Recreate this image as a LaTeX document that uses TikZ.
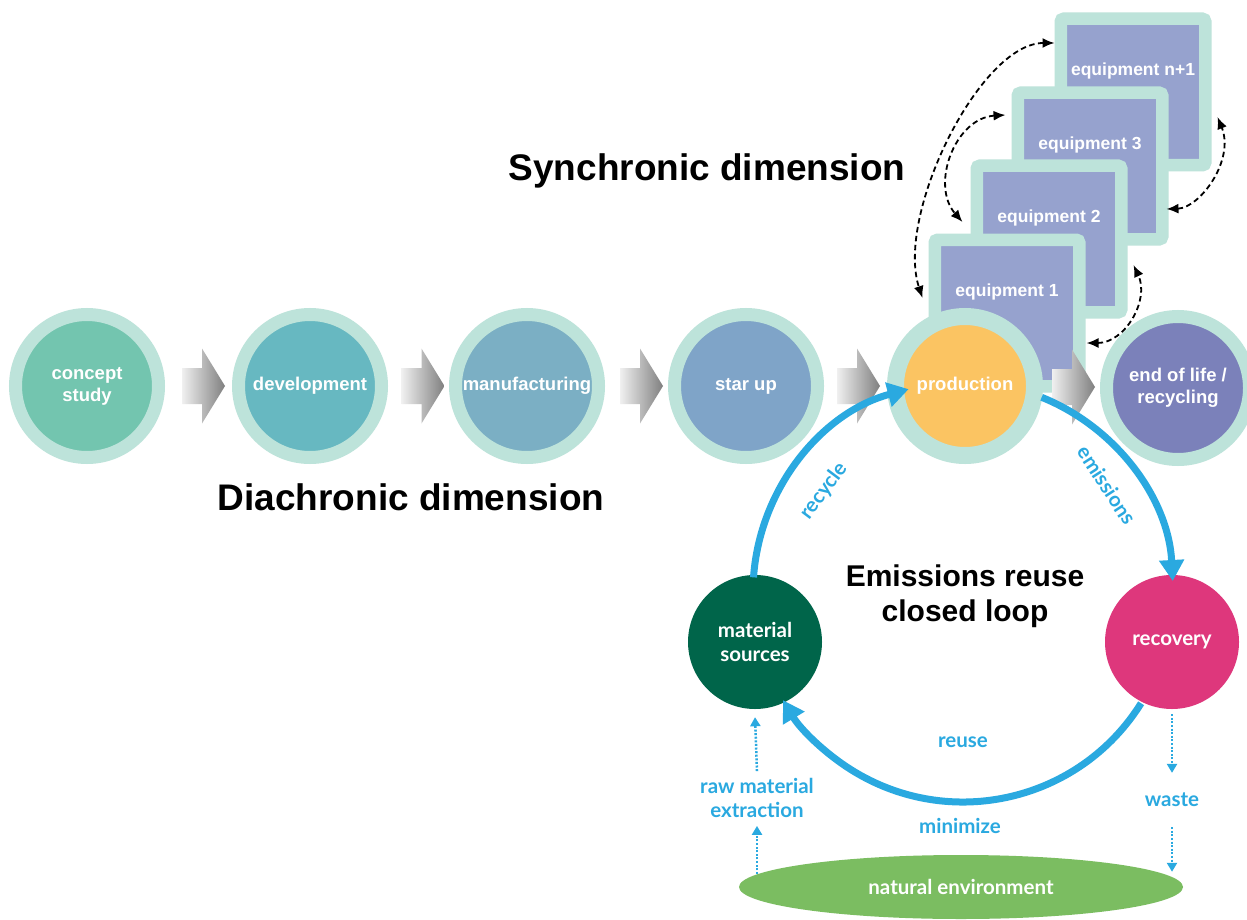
\documentclass[tikz,border=0pt]{standalone}
\usepackage{fontspec}
\setmainfont{Liberation Sans}
\newfontfamily\loopfont{Lato}
\usetikzlibrary{arrows.meta,shapes.geometric,calc}

\definecolor{ringc}{HTML}{BDE3DA}
\definecolor{conceptc}{HTML}{73C5AF}
\definecolor{develc}{HTML}{67B8C1}
\definecolor{manufc}{HTML}{7BAFC4}
\definecolor{startc}{HTML}{7FA4C8}
\definecolor{prodc}{HTML}{FBC462}
\definecolor{eolc}{HTML}{7B81BA}
\definecolor{eqcol}{HTML}{96A2CE}
\definecolor{matc}{HTML}{00654A}
\definecolor{recc}{HTML}{DE377C}
\definecolor{loopblue}{HTML}{2AA9E0}
\definecolor{envc}{HTML}{7BBD61}
\definecolor{arrowL}{HTML}{F0F0F0}
\definecolor{arrowR}{HTML}{7F7F7F}

\newcommand\stagefont{\bfseries\fontsize{18.5}{22}\selectfont}
\newcommand\eqfont{\bfseries\fontsize{17.5}{21}\selectfont}
\newcommand\smallloopfont{\loopfont\bfseries\fontsize{20.5}{24}\selectfont}

\tikzset{
  blockarrow/.pic={
    \shade[left color=arrowL, right color=arrowR]
      (-21.5,-18) -- (-1.5,-18) -- (-1.5,-37.5) -- (21.5,0) -- (-1.5,37.5)
      -- (-1.5,18) -- (-21.5,18) -- cycle;
  }
}

\begin{document}
\begin{tikzpicture}[x=1pt,y=-1pt,
  stage/.style={circle, draw=ringc, line width=13pt, minimum size=143pt,
    inner sep=0pt, text=white, font=\stagefont, align=center},
  eqbox/.style={rectangle, draw=ringc, fill=eqcol, line width=12.5pt,
    minimum width=144.5pt, minimum height=146.5pt, inner sep=0pt,
    rounded corners=3pt},
  eqtext/.style={text=white, font=\eqfont, inner sep=0pt},
  linkarrow/.style={draw=black, line width=1.8pt, dash pattern=on 5.5pt off 3.5pt,
    <->, >={Latex[length=12pt,width=10pt]}},
  loopnode/.style={circle, minimum size=134pt, inner sep=0pt, text=white,
    font=\smallloopfont, align=center},
  looparrow/.style={draw=loopblue, line width=7pt, ->,
    >={Triangle[length=21pt,width=24pt]}},
  dotarr/.style={draw=loopblue, line width=2.5pt, dash pattern=on 2pt off 1.6pt,
    ->, >={Triangle[length=9pt,width=10pt]}},
  bluelbl/.style={text=loopblue, font=\smallloopfont, inner sep=0pt, align=center},
  title/.style={text=black, font=\bfseries\fontsize{37}{42}\selectfont, inner sep=0pt},
]
\fill[white] (0,0) rectangle (1247,920);
\useasboundingbox (0,0) rectangle (1247,920);

% stack of equipment units (back to front)
\node[eqbox] (eqn) at (1133,92) {};
\node[eqtext] (eqnT) at ([yshift=21pt]eqn.center) {equipment n+1};
\node[eqbox] (eq3) at (1090,166) {};
\node[eqtext] (eq3T) at ([yshift=21pt]eq3.center) {equipment 3};
\node[eqbox] (eq2) at (1049,239) {};
\node[eqtext] (eq2T) at ([yshift=21pt]eq2.center) {equipment 2};
\node[eqbox] (eq1) at (1007,313) {};
\node[eqtext] (eq1T) at ([yshift=21pt]eq1.center) {equipment 1};

% life-cycle stages
\node[stage, fill=conceptc] (concept) at (87,386) {concept\\study};
\node[stage, fill=develc] (devel) at (310,386) {development};
\node[stage, fill=manufc] (manuf) at (527,386) {manufacturing};
\node[stage, fill=startc] (startup) at (746,386) {star up};
\node[stage, fill=prodc, line width=17pt, minimum size=139pt] (prod) at (965,386) {production};
\node[stage, fill=eolc] (eol) at (1178,388) {end of life /\\recycling};

% block arrows between stages
\pic at ($(concept.east)!0.5!(devel.west)+(5,0)$) {blockarrow};
\pic at ($(devel.east)!0.5!(manuf.west)+(4.5,0)$) {blockarrow};
\pic at ($(manuf.east)!0.5!(startup.west)+(5,0)$) {blockarrow};
\pic at ($(startup.east)!0.5!(prod.west)+(3,0)$) {blockarrow};
\pic at ($(prod.east)!0.5!(eol.west)+(2,0)$) {blockarrow};

% links between equipment units
\draw[linkarrow] ([yshift=49pt]eqn.west) .. controls (980,43) and (895,215) .. ([xshift=-6pt,yshift=15pt]eq1.west);
\draw[linkarrow] ([xshift=-6pt,yshift=51pt]eq3.west) .. controls (955,118) and (930,185) .. ([xshift=-8pt,yshift=17pt]eq2.west);
\draw[linkarrow] ([xshift=-2pt,yshift=-43pt]eq3.east) .. controls (1200,208) and (1235,160) .. ([xshift=6pt,yshift=-25pt]eqn.east);
\draw[linkarrow] ([xshift=1pt,yshift=-30pt]eq1.east) .. controls (1125,343) and (1150,300) .. ([xshift=6pt,yshift=-26pt]eq2.east);

% closed loop
\node[loopnode, fill=matc] (ms) at (755,642) {material\\sources};
\node[loopnode, fill=recc] (rec) at (1172,642) {recovery};
\node[ellipse, fill=envc, minimum width=444pt, minimum height=64pt, inner sep=0pt,
  text=white, font=\smallloopfont] (env) at (961,887) {natural environment};

\coordinate (loopc) at (963,592);
\draw[looparrow] ($(loopc)+(176:210pt)$) arc[start angle=176, end angle=105, radius=210pt];
\draw[looparrow] ($(loopc)+(68:210pt)$) arc[start angle=68, end angle=3, radius=210pt];
\draw[looparrow] ($(loopc)+(-32:210pt)$) arc[start angle=-32, end angle=-149, radius=210pt];

\node[bluelbl, rotate=53] (recycleL) at (824,491) {recycle};
\node[bluelbl, rotate=-57] (emisL) at (1107,485) {emissions};
\node[bluelbl] (reuseL) at (963,742) {reuse};
\node[bluelbl] (minL) at (960,826) {minimize};
\node[bluelbl] (raw) at (757,798) {raw material\\extraction};
\node[bluelbl] (waste) at (1172,800) {waste};

\draw[dotarr] ($(env.north -| raw.south)+(0,19)$) -- ($(raw.south)+(0,8)$);
\draw[dotarr] ($(raw.north)+(0,-7)$) -- ($(ms.south)+(0,8)$);
\draw[dotarr] ($(rec.south)+(0,5)$) -- ($(waste.north)+(0,-20)$);
\draw[dotarr] ($(waste.south)+(0,20)$) -- ($(env.north -| waste.south)+(0,17)$);

% headings
\node[title] (synch) at (707,171) {Synchronic dimension};
\node[title] (diach) at (411,497) {Diachronic dimension};
\node[font=\bfseries\fontsize{30}{35}\selectfont, align=center, inner sep=0pt] (loopT) at (965,596) {Emissions reuse\\closed loop};
\end{tikzpicture}
\end{document}
